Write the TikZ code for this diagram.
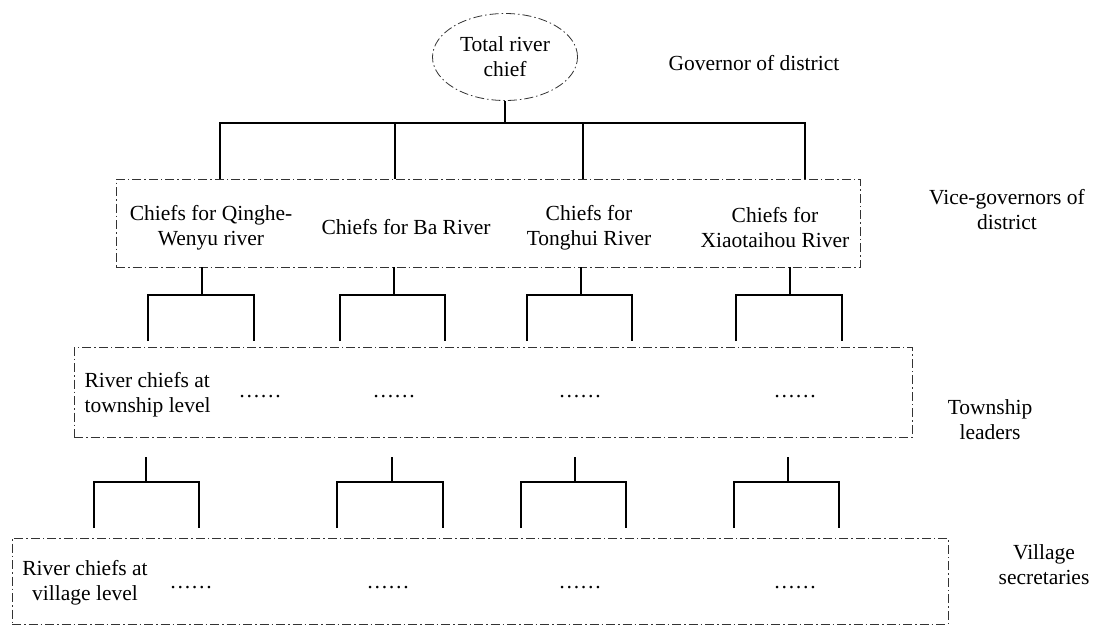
\documentclass[tikz,border=0pt]{standalone}
\usepackage{fontspec}
\setmainfont{Liberation Serif}
\usetikzlibrary{shapes.geometric}

\tikzset{
  dashdot/.style={draw=black!80, line width=0.8pt, dash pattern=on 9pt off 3pt on 1.5pt off 3pt},
  level/.style={dashdot, rectangle, inner sep=0pt},
  lbl/.style={align=center, font=\fontsize{21.5}{25}\selectfont},
  link/.style={draw=black, line width=1.1pt},
}

\begin{document}
\begin{tikzpicture}[x=1pt, y=-1pt]
  \useasboundingbox (0,0) rectangle (1099,626);
  % top of the hierarchy
  \node[dashdot, ellipse, minimum width=145pt, minimum height=87pt, inner sep=0pt, lbl] (total) at (505,57) {Total river\\chief};
  \node[lbl, anchor=west] (gov) at (665,63) {Governor of district};
  % the three dashed levels
  \node[level, minimum width=744pt, minimum height=88pt] (vice) at (488,223) {};
  \node[level, minimum width=838pt, minimum height=90pt] (town) at (493,392) {};
  \node[level, minimum width=936pt, minimum height=86pt] (vill) at (480,581) {};
  % district level
  \node[lbl] (qw) at (211,228) {Chiefs for Qinghe-\\Wenyu river};
  \node[lbl] (ba) at (406,227) {Chiefs for Ba River};
  \node[lbl] (th) at (589,228) {Chiefs for\\Tonghui River};
  \node[lbl] (xt) at (775,228) {Chiefs for\\Xiaotaihou River};
  \node[lbl] (vg) at (1007,210) {Vice-governors of\\district};
  % township level
  \node[lbl, align=left, anchor=west] (rct) at (81,395) {River chiefs at\\township level};
  \foreach \x [count=\i] in {260,394,580,795}
    \node[lbl] (td\i) at (\x,397) {……};
  \node[lbl] (tl) at (990,420) {Township\\leaders};
  % village level
  \node[lbl] (rcv) at (85,583) {River chiefs at\\village level};
  \foreach \x [count=\i] in {191,388,580,795}
    \node[lbl] (vd\i) at (\x,588) {……};
  \node[lbl] (vs) at (1044,565) {Village\\secretaries};

  % connectors
  \coordinate (hub) at (505,123);
  \draw[link] (total.south) -- (hub);
  \foreach \x in {220,395,583,805}
    \draw[link] (hub) -| (\x,0 |- vice.north);
  \foreach \s/\l/\r in {202/148/254, 394/340/445, 581/527/632, 790/736/842} {
    \draw[link] (\s,0 |- vice.south) -- (\s,295) coordinate (j);
    \draw[link] (\l,341) |- (j) -| (\r,341);
  }
  \foreach \s/\l/\r in {146/94/199, 392/337/443, 575/521/626, 788/734/839} {
    \draw[link] (\s,457) coordinate (k) -- (\s,482) coordinate (j);
    \draw[link] (\l,528) |- (j) -| (\r,528);
  }
\end{tikzpicture}
\end{document}
